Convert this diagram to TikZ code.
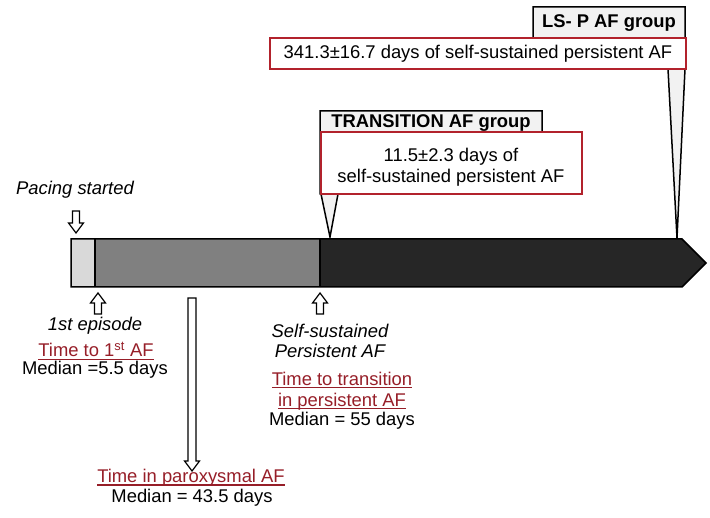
\documentclass[tikz,border=0pt]{standalone}
\usepackage{fontspec}
\setmainfont{Liberation Sans}
\definecolor{redb}{RGB}{178,34,44}
\definecolor{redt}{RGB}{150,30,40}
\definecolor{lightg}{RGB}{217,217,217}
\definecolor{midg}{RGB}{128,128,128}
\definecolor{darkg}{RGB}{38,38,38}
\definecolor{titleg}{RGB}{242,242,242}
\newcommand\redu[1]{\textcolor{redt}{\setbox0\hbox{#1}\rlap{\rule[-2.8pt]{\wd0}{1.1pt}}\box0}}
\newcommand\hollowarr[6]{%
  \draw[arrshape] (#1-#5,#2) -- (#1+#5,#2) -- (#1+#5,#3) -- (#1+#6,#3) -- (#1,#4) -- (#1-#6,#3) -- (#1-#5,#3) -- cycle;}
\begin{document}
\begin{tikzpicture}[x=1pt,y=-1pt,
  txt/.style={font=\fontsize{18.4}{20.5}\selectfont, align=center, inner sep=0pt},
  ttl/.style={font=\fontsize{18.4}{20.5}\selectfont\bfseries, inner sep=0pt},
  redbox/.style={draw=redb, line width=2pt, fill=white},
  callout/.style={draw=black, line width=1.5pt, fill=titleg},
  arrshape/.style={draw=black, line width=1.2pt, fill=white},
  barline/.style={draw=black, line width=1.5pt}]
\useasboundingbox (0,0) rectangle (710,518);

% LS-P callout
\draw[callout] (533,7) -- (685,7) -- (685,69) -- (677,238) -- (668,69) -- (533,69) -- cycle;
\node[ttl] (lsp) at (609,23) {LS- P AF group};
\draw[redbox] (270,38) rectangle (686,69);
\node[txt] (lspd) at (478,54) {341.3±16.7 days of self-sustained persistent AF};

% TRANSITION callout
\draw[callout] (320,111) -- (542,111) -- (542,194) -- (338,194) -- (330,237) -- (321,194) -- (320,194) -- cycle;
\node[ttl] (tra) at (431,123) {TRANSITION AF group};
\draw[redbox] (321,132) rectangle (582,194);
\node[txt] (trad) at (451,167) {11.5±2.3 days of\\self-sustained persistent AF};

% bar
\fill[lightg] (71,239) rectangle (95,287);
\fill[midg] (95,239) rectangle (320,287);
\fill[darkg] (320,239) -- (682,239) -- (706,263) -- (682,287) -- (320,287) -- cycle;
\draw[barline] (71,239) -- (682,239) -- (706,263) -- (682,287) -- (71,287) -- cycle;
\draw[barline] (95,239) -- (95,287);
\draw[barline] (320,239) -- (320,287);

% arrows
\hollowarr{76}{211}{223}{233}{3.5}{7.5}
\hollowarr{98}{314}{303}{293}{3.5}{7.5}
\hollowarr{320}{314}{303}{293}{3.5}{7.5}
\hollowarr{192}{298}{461}{471}{4}{7.5}

% texts
\node[txt] (pacing) at (75,190) {\itshape Pacing started};
\node[txt] (ep) at (95,326) {\itshape 1st episode};
\node[txt] (t1) at (96,351) {\redu{Time to 1\textsuperscript{st} AF}};
\node[txt] (m1) at (95,370) {Median =5.5 days};
\node[txt] (tp) at (191,478) {\redu{Time in paroxysmal AF}};
\node[txt] (mp) at (192,498) {Median = 43.5 days};
\node[txt] (ss) at (330,341) {\itshape Self-sustained\\\itshape Persistent AF};
\node[txt] (tt) at (342,391) {\redu{Time to transition}\\\redu{in persistent AF}};
\node[txt] (m3) at (342,421) {Median = 55 days};
\end{tikzpicture}
\end{document}
